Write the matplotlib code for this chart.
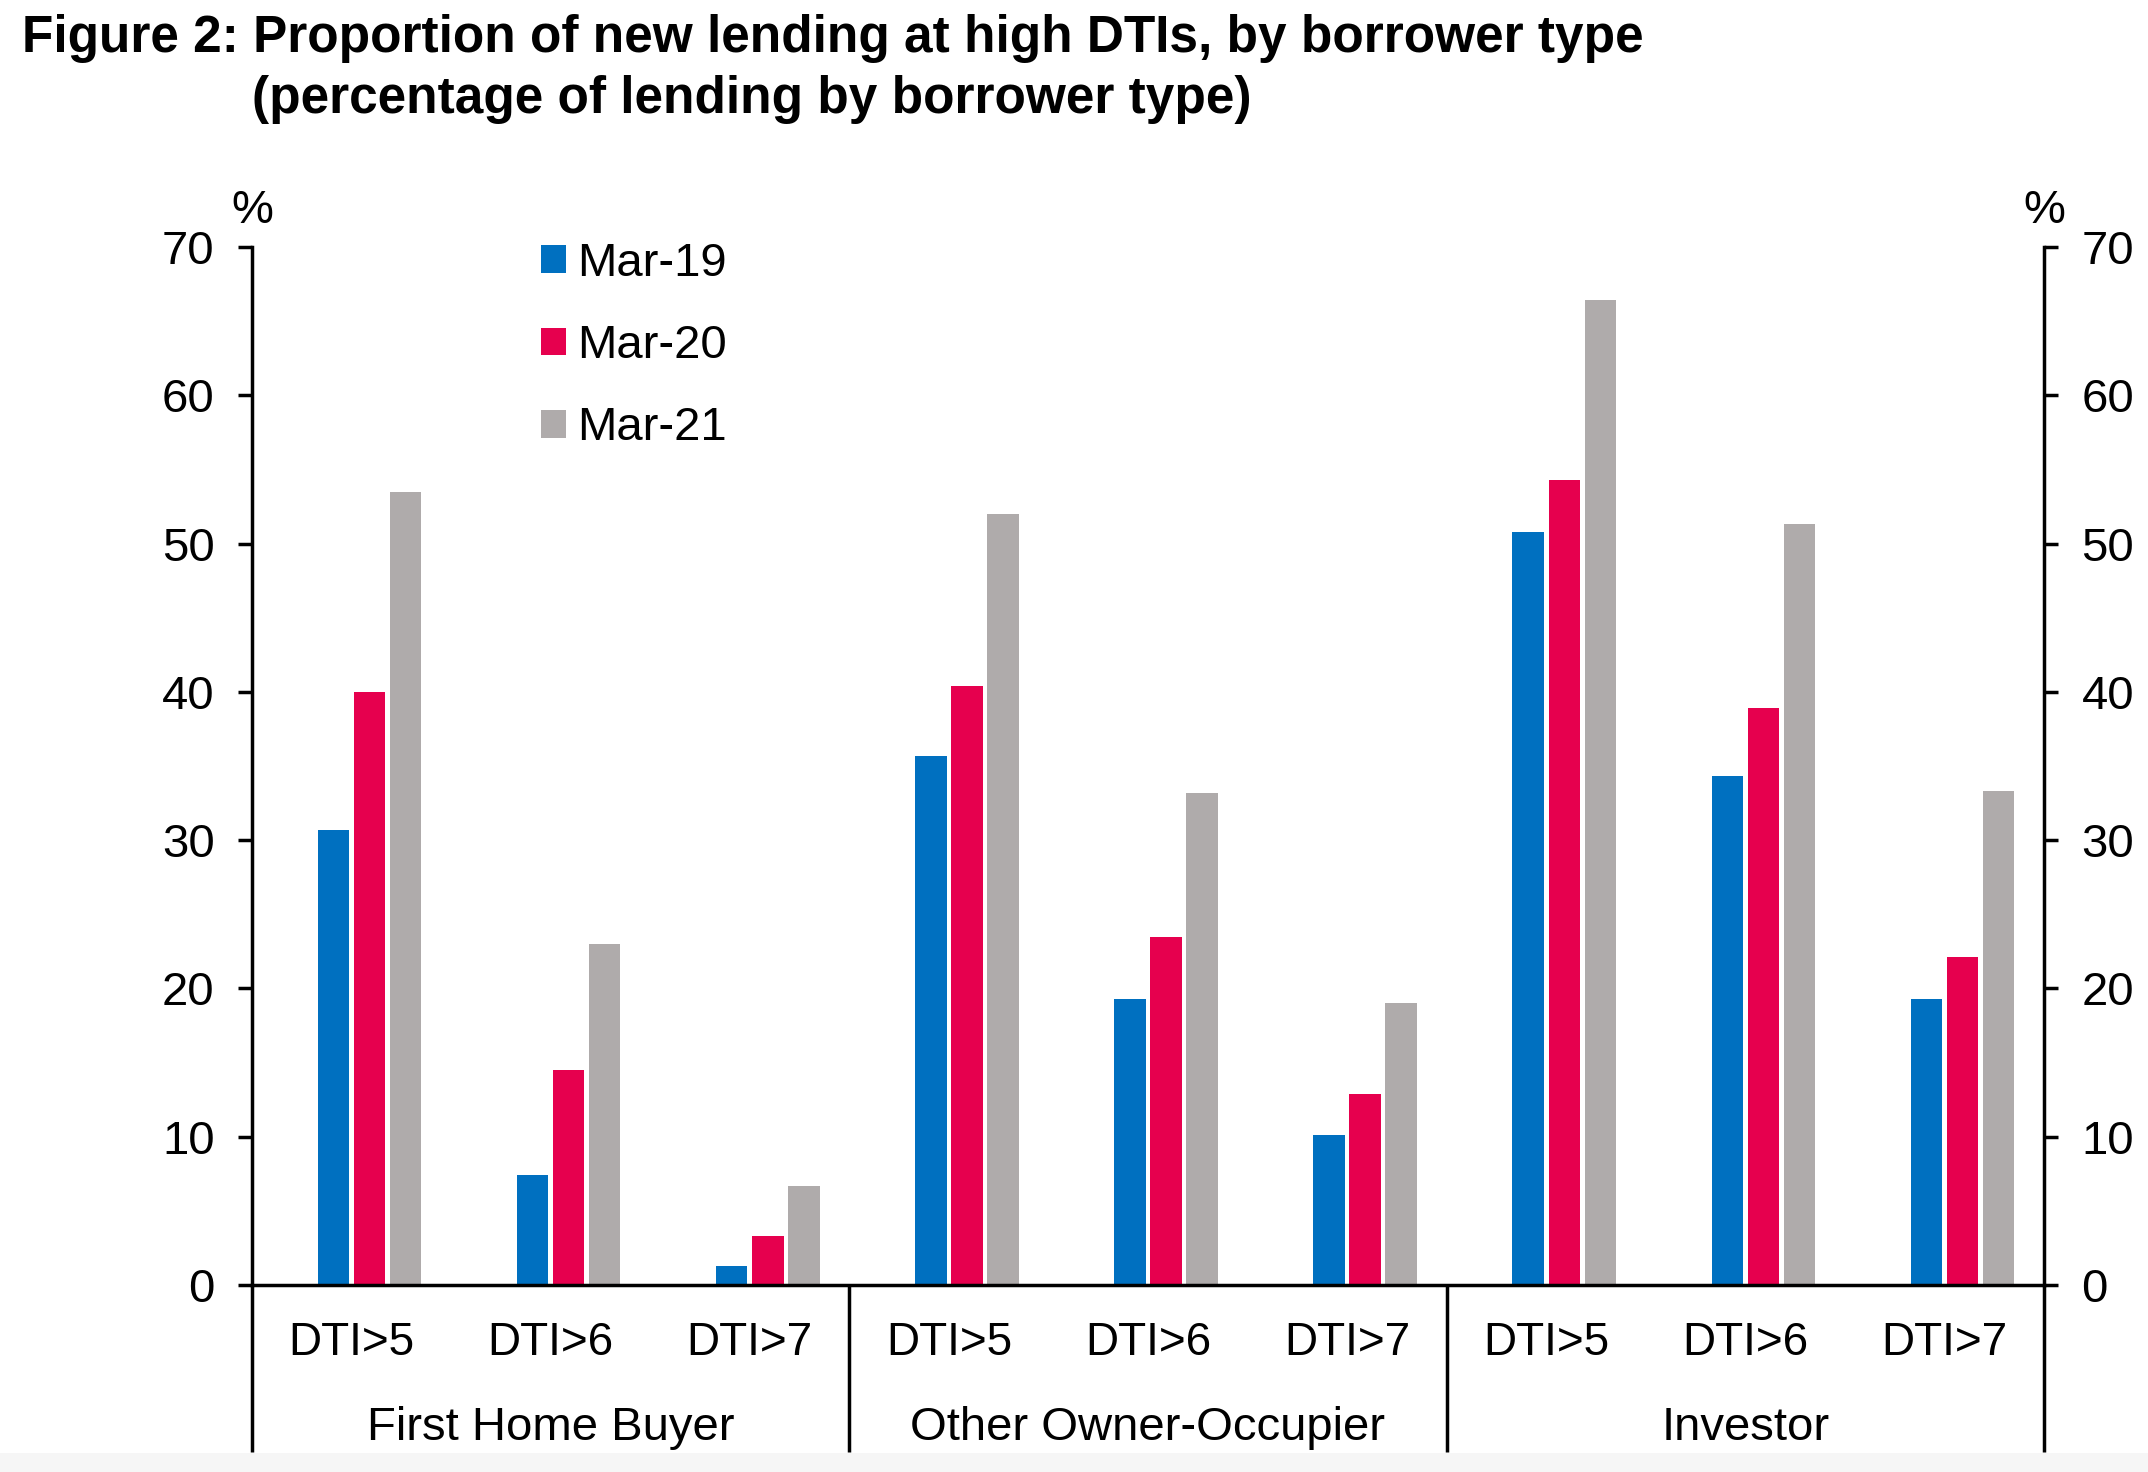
import numpy as np
import matplotlib
matplotlib.use("Agg")
import matplotlib.pyplot as plt
from matplotlib.patches import Patch, Rectangle

plt.rcParams['font.family'] = ['Liberation Sans', 'DejaVu Sans']

# data
groups = ["First Home Buyer", "Other Owner-Occupier", "Investor"]
thresholds = ["DTI>5", "DTI>6", "DTI>7"]
series = ["Mar-19", "Mar-20", "Mar-21"]
mar19 = [30.7, 7.4, 1.3, 35.7, 19.3, 10.1, 50.8, 34.3, 19.3]
mar20 = [40.0, 14.5, 3.3, 40.4, 23.5, 12.9, 54.3, 38.9, 22.1]
mar21 = [53.5, 23.0, 6.7, 52.0, 33.2, 19.0, 66.4, 51.3, 33.3]
colors = ["#0070C0", "#E6004E", "#AFABAB"]

W, H = 2148, 1472
FS = 34
fig = plt.figure(figsize=(W / 100, H / 100), dpi=100)
ax = fig.add_axes([252 / W, 1 - 1285 / H, (2044 - 252) / W, (1285 - 247) / H])

x = np.arange(len(mar19))
step = 0.181
width = 0.158
for j, (vals, c, lab) in enumerate(zip([mar19, mar20, mar21], colors, series)):
    ax.bar(x + (j - 0.5) * step, vals, width=width, color=c, label=lab, zorder=2)

ax.set_xlim(-0.5, len(x) - 0.5)
ax.set_ylim(0, 70)
ax.set_yticks(range(0, 71, 10))
ax.set_xticks([])

for s in ["left", "right", "bottom"]:
    ax.spines[s].set_linewidth(2.5)
    ax.spines[s].set_color("black")
ax.spines["top"].set_visible(False)

ax.tick_params(axis="y", which="both", left=True, right=True, labelleft=True,
               labelright=True, direction="out", length=10, width=2.5,
               pad=17, labelsize=FS)

# x labels and group separators
tr = ax.get_xaxis_transform()
for i in x:
    ax.text(i, -0.0674, thresholds[i % 3], transform=tr, ha="center",
            va="baseline", fontsize=33)
for g, name in enumerate(groups):
    ax.text(g * 3 + 1, -0.1493, name, transform=tr, ha="center",
            va="baseline", fontsize=FS)
for sx in [-0.5, 2.5, 5.5, 8.5]:
    ax.plot([sx, sx], [0, -0.161], transform=tr, color="black", lw=2.5,
            clip_on=False, solid_capstyle="butt")

# percent labels
ax.text(0, 1.023, "%", transform=ax.transAxes, ha="center", va="baseline", fontsize=FS)
ax.text(1, 1.023, "%", transform=ax.transAxes, ha="center", va="baseline", fontsize=FS)

# legend
handles = [Patch(facecolor=c, label=l) for c, l in zip(colors, series)]
ax.legend(handles=handles, loc="upper left", frameon=False, fontsize=FS,
          bbox_to_anchor=(541 / W, 1 - 242 / H), bbox_transform=fig.transFigure,
          borderpad=0, borderaxespad=0, handlelength=0.53, handleheight=0.53,
          handletextpad=0.23, labelspacing=0.81)

# title
fig.text(22 / W, 1 - 52 / H, "Figure 2: Proportion of new lending at high DTIs, by borrower type",
         fontsize=37, fontweight="bold", va="baseline", ha="left")
fig.text(252 / W, 1 - 113 / H, "(percentage of lending by borrower type)",
         fontsize=37, fontweight="bold", va="baseline", ha="left")

# faint band at bottom edge
fig.patches.append(Rectangle((0, 0), 1, 19 / H, transform=fig.transFigure,
                             facecolor="#f6f6f6", edgecolor="none", zorder=-1))

fig.savefig("out.png", dpi=100)
